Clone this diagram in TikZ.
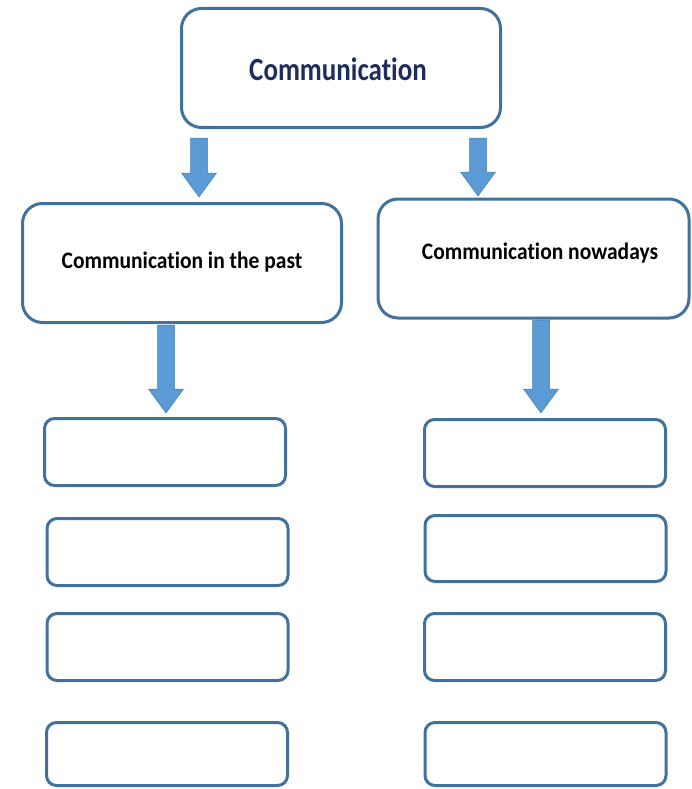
\documentclass[tikz,border=0pt]{standalone}
\usepackage{fontspec}
\setmainfont[Ligatures=NoCommon]{Carlito}
\usetikzlibrary{calc}
\definecolor{boxline}{HTML}{41719C}
\definecolor{arrowfill}{HTML}{5B9BD5}
\definecolor{navytext}{HTML}{1F2D5C}
\tikzset{
  bigbox/.style={draw=boxline, line width=3pt, rounded corners=20pt, fill=white, inner sep=0pt, minimum width=319pt, minimum height=119pt},
  smallbox/.style={draw=boxline, line width=3pt, rounded corners=10pt, fill=white, inner sep=0pt, minimum width=241pt, minimum height=67pt},
  toptext/.style={font=\fontsize{27}{30}\selectfont\bfseries, text=navytext},
  midtext/.style={font=\fontsize{21.5}{24}\selectfont\bfseries, text=black},
  blockarrow/.style={fill=arrowfill, draw=boxline!70!arrowfill, line width=0.5pt}
}
\newcommand\barrow[2]{%
  \path[blockarrow] let \p1=(#1), \p2=(#2) in
    (\x1-8.5pt,\y1) -- (\x1+8.5pt,\y1) -- (\x1+8.5pt,\y2+24pt) -- (\x1+17.5pt,\y2+24pt)
    -- (\x1,\y2) -- (\x1-17.5pt,\y2+24pt) -- (\x1-8.5pt,\y2+24pt) -- cycle;}
\begin{document}
\begin{tikzpicture}[x=1pt,y=-1pt]
\useasboundingbox (0,0) rectangle (691,789);
\node[bigbox, label={[toptext, xshift=-3pt, yshift=-1pt]center:\scalebox{1}[1.2]{Communication}}] (top) at (341,68) {};
\node[bigbox] (past) at (182,263) {};
\node[midtext] (pastt) at (182,262) {\scalebox{1}[1.1]{Communication in the past}};
\node[bigbox, minimum width=311pt] (now) at (533.5,258.5) {};
\node[midtext] (nowt) at (540,253) {\scalebox{1}[1.1]{Communication nowadays}};
% small boxes
\node[smallbox] (l1) at (165,452) {};
\node[smallbox] (l2) at (167.5,552) {};
\node[smallbox] (l3) at (167.5,647) {};
\node[smallbox, minimum height=63pt] (l4) at (167,754) {};
\node[smallbox] (r1) at (545,453) {};
\node[smallbox, minimum height=66pt] (r2) at (545.5,548.5) {};
\node[smallbox] (r3) at (545,647) {};
\node[smallbox, minimum height=63pt] (r4) at (545.5,754) {};
% arrows
\coordinate (a1s) at (199,138); \coordinate (a1e) at (199,197);
\coordinate (a2s) at (478,138); \coordinate (a2e) at (478,196);
\coordinate (a3s) at (166,325); \coordinate (a3e) at (166,413);
\coordinate (a4s) at (541,320); \coordinate (a4e) at (541,413);
\barrow{a1s}{a1e}
\barrow{a2s}{a2e}
\barrow{a3s}{a3e}
\barrow{a4s}{a4e}
\end{tikzpicture}
\end{document}
